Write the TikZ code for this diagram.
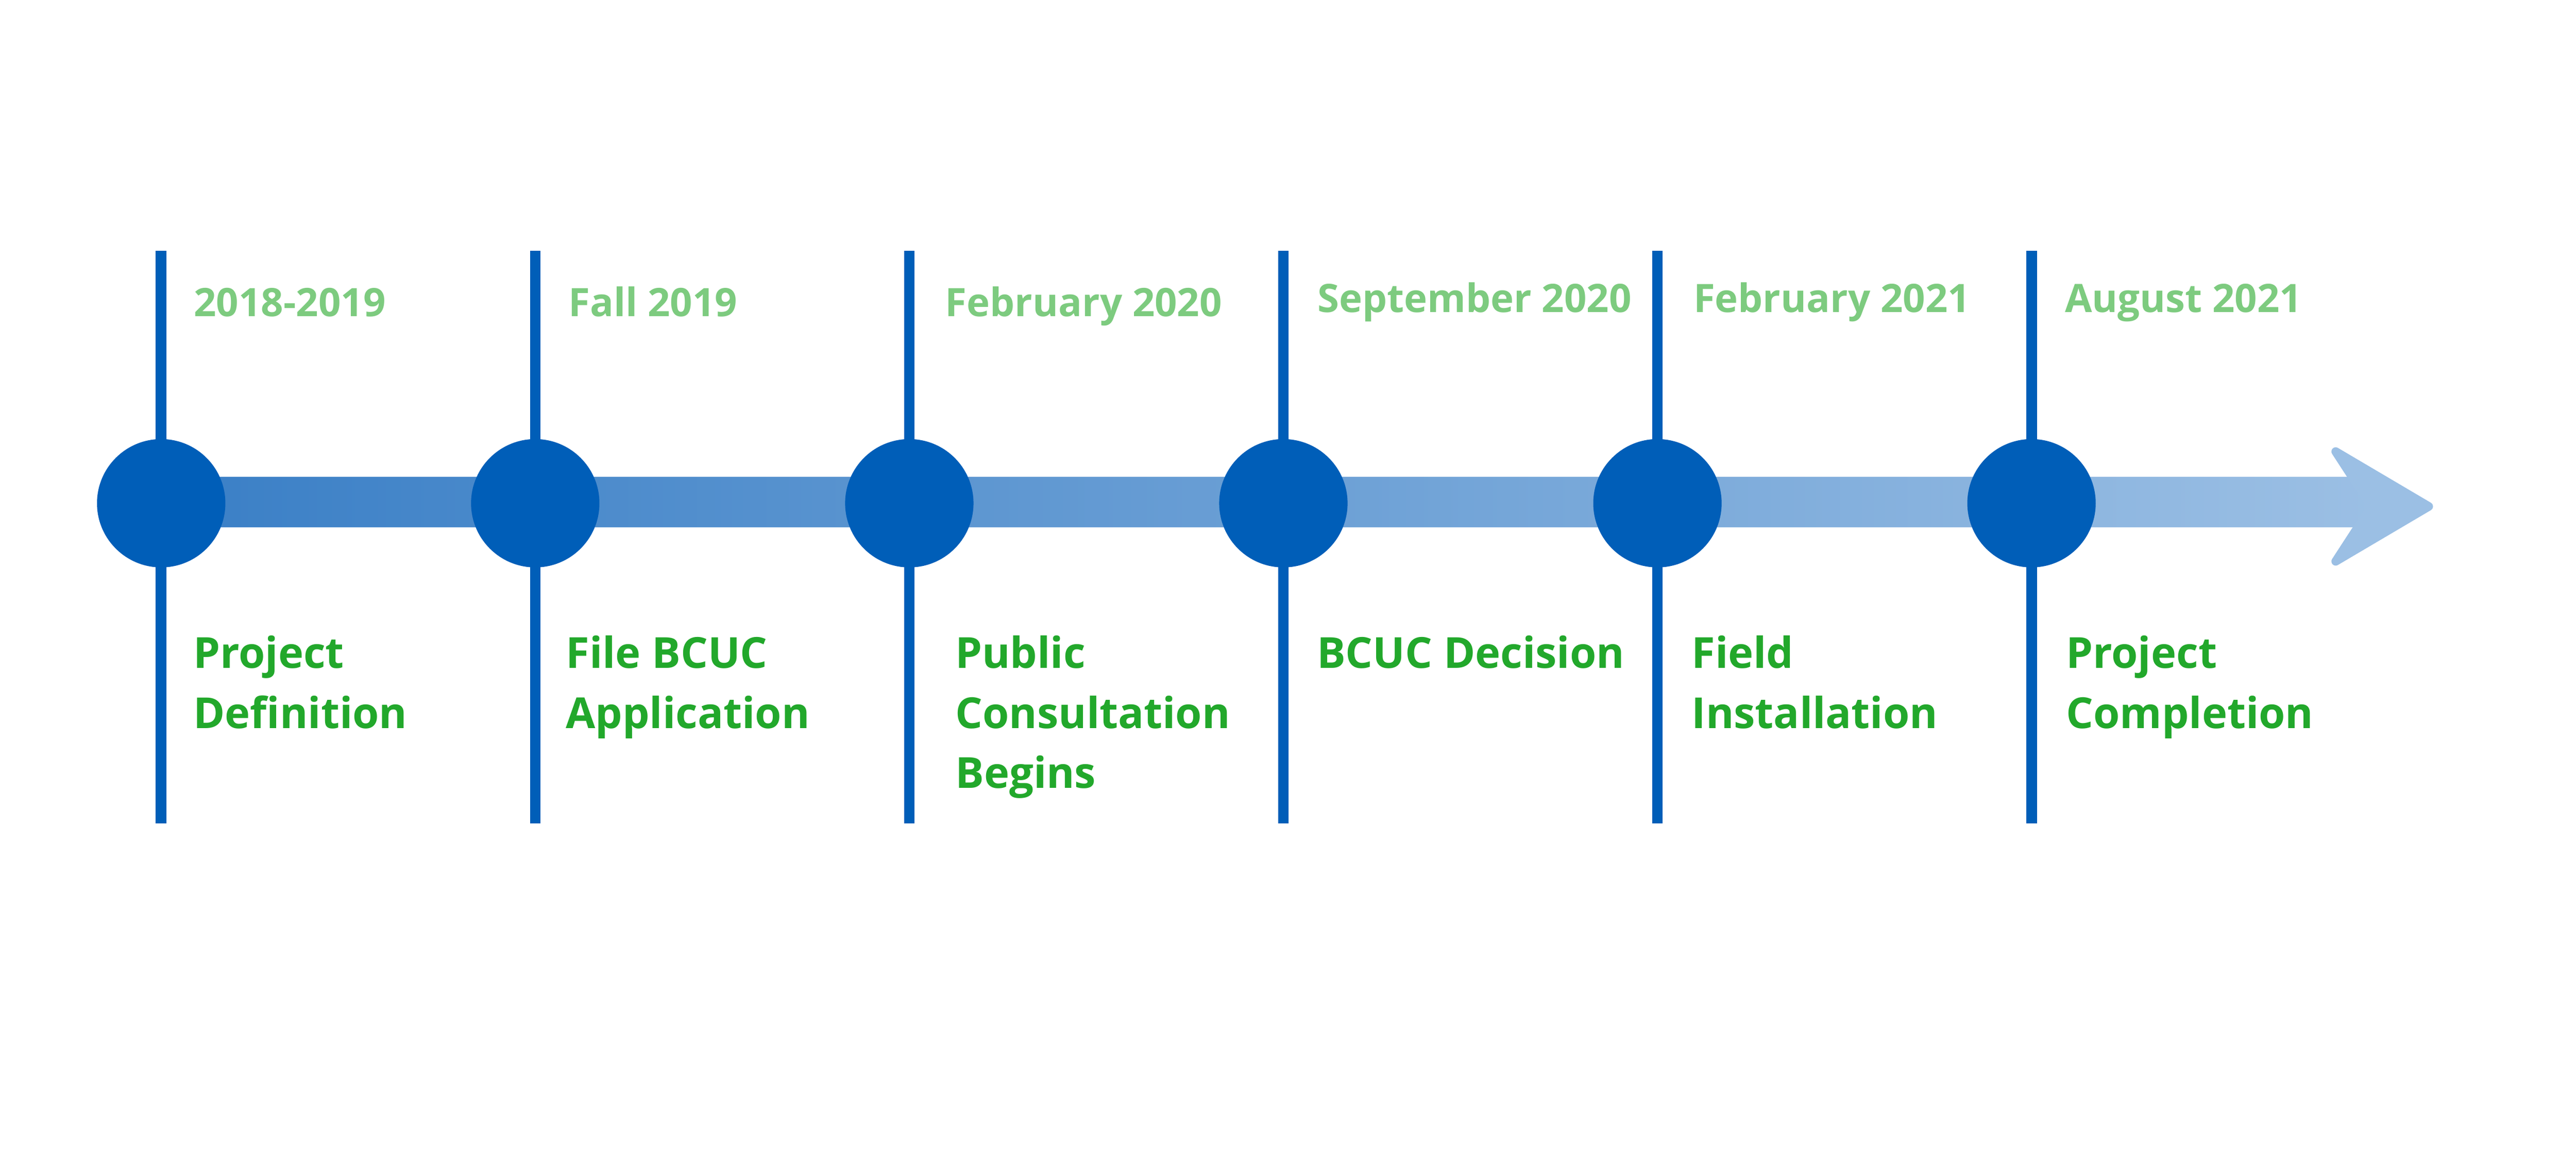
\documentclass[tikz,border=0pt]{standalone}
\usepackage{fontspec}
\setmainfont{Open Sans}
\usepackage{tikz}
\usetikzlibrary{calc}
\definecolor{navy}{HTML}{005EB8}
\definecolor{barstart}{HTML}{3A7FC6}
\definecolor{barend}{HTML}{9BBFE4}
\definecolor{lightgreen}{HTML}{7DCB7F}
\definecolor{darkgreen}{HTML}{22A82B}
\tikzset{
  stem/.style={draw=navy, line width=3pt},
  dot/.style={circle, fill=navy, minimum size=36pt, inner sep=0pt},
  datelbl/.style={text=lightgreen, font=\fontsize{11}{15}\selectfont\bfseries, anchor=base west, inner sep=0pt},
  eventlbl/.style={text=darkgreen, font=\fontsize{12}{16.8}\selectfont\bfseries, anchor=base west, align=left, inner sep=0pt}
}

\begin{document}
\begin{tikzpicture}[x=10pt,y=10pt]
  \useasboundingbox (0,0) rectangle (72.24,32.40);
  \def\ty{18.28}
  \def\dx{10.49}

  % shaded bar and its head
  \coordinate (start) at (4.52,18.31);
  \coordinate (tip) at (68.11,18.19);
  \shade[left color=barstart, right color=barend] ($(start)+(0,-0.70)$) rectangle (66.6,19.01);
  \fill[barend, draw=barend, line width=2.4pt, line join=round]
    (tip) -- (65.50,19.73) -- (66.50,18.19) -- (65.50,16.65) -- cycle;

  % milestones (label y = baseline of its last line)
  \foreach \n/\date/\dy/\dxo/\txt/\lxo/\ly in {
    1/2018-2019/23.52/0.90/{Project\\Definition}/0.88/11.97,
    2/Fall 2019/23.52/0.91/{File BCUC\\Application}/0.84/11.97,
    3/February 2020/23.52/0.99/{Public\\Consultation\\Begins}/1.27/10.29,
    4/September 2020/23.63/0.94/{BCUC Decision}/0.92/13.65,
    5/February 2021/23.63/0.99/{Field\\Installation}/0.94/11.97,
    6/August 2021/23.63/0.92/{Project\\Completion}/0.95/11.97}{
    \coordinate (s\n) at ({4.52+(\n-1)*\dx},\ty);
    \coordinate (top\n) at ($(s\n)+(0,7.08)$);
    \coordinate (bot\n) at ($(s\n)+(0,-8.98)$);
    \draw[stem] (top\n) -- (bot\n);
    \node[dot] (m\n) at (s\n) {};
    \node[datelbl] (d\n) at ({4.52+(\n-1)*\dx+\dxo},\dy) {\date};
    \node[eventlbl] (e\n) at ({4.52+(\n-1)*\dx+\lxo},\ly) {\txt};
  }
\end{tikzpicture}
\end{document}
